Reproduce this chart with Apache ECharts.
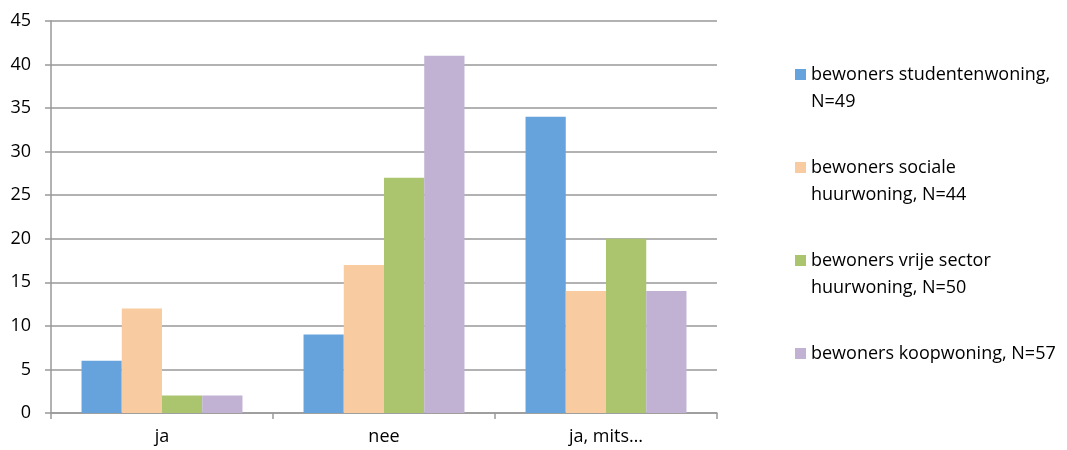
<!DOCTYPE html>
<html><head><meta charset="utf-8">
<script src="https://cdn.jsdelivr.net/npm/echarts@6/dist/echarts.min.js"></script>
<style>html,body{margin:0;padding:0;background:#fff}#c{width:1067px;height:450px}</style>
</head><body><div id="c"></div>
<script>
const categories = ['ja', 'nee', 'ja, mits…'];
const seriesNames = ['bewoners studentenwoning, N=49', 'bewoners sociale huurwoning, N=44', 'bewoners vrije sector huurwoning, N=50', 'bewoners koopwoning, N=57'];
const legendLabels = ['bewoners studentenwoning,\nN=49', 'bewoners sociale\nhuurwoning, N=44', 'bewoners vrije sector\nhuurwoning, N=50', 'bewoners koopwoning, N=57\n'];
const studentenwoning = [6, 9, 34];
const socialeHuur = [12, 17, 14];
const vrijeSector = [2, 27, 20];
const koopwoning = [2, 41, 14];
const colors = ['#66a3dd', '#f9cba1', '#abc46e', '#c1b2d4'];
const values = [studentenwoning, socialeHuur, vrijeSector, koopwoning];

const font = 'Open Sans';
const chart = echarts.init(document.getElementById('c'));
chart.setOption({
  animation: false,
  grid: { left: 51, right: 350, top: 21, bottom: 37, containLabel: false },
  legend: {
    orient: 'vertical', left: 795, top: 34, padding: 0, itemWidth: 11, itemHeight: 11, itemGap: 12,
    icon: 'rect',
    data: seriesNames,
    formatter: function (n) { return '\n' + legendLabels[seriesNames.indexOf(n)]; },
    textStyle: { fontFamily: font, fontSize: 18, color: '#000', lineHeight: 27 }
  },
  xAxis: {
    type: 'category', data: categories,
    axisLine: { lineStyle: { color: '#999', width: 1.5 } },
    axisTick: { show: true, length: 6, lineStyle: { color: '#999', width: 1.5 } },
    axisLabel: { fontFamily: font, fontSize: 18, color: '#000', margin: 15 }
  },
  yAxis: {
    type: 'value', min: 0, max: 45, interval: 5,
    axisLine: { show: true, lineStyle: { color: '#999', width: 1.5 } },
    axisTick: { show: true, length: 6, lineStyle: { color: '#999', width: 1.5 } },
    splitLine: { lineStyle: { color: '#999', width: 1.5 } },
    axisLabel: { fontFamily: font, fontSize: 18, color: '#000', margin: 20 }
  },
  series: values.map((v, i) => ({
    name: seriesNames[i], type: 'bar', data: v,
    barGap: '0%', barCategoryGap: '27.5%',
    itemStyle: { color: colors[i] }
  }))
});
</script></body></html>
